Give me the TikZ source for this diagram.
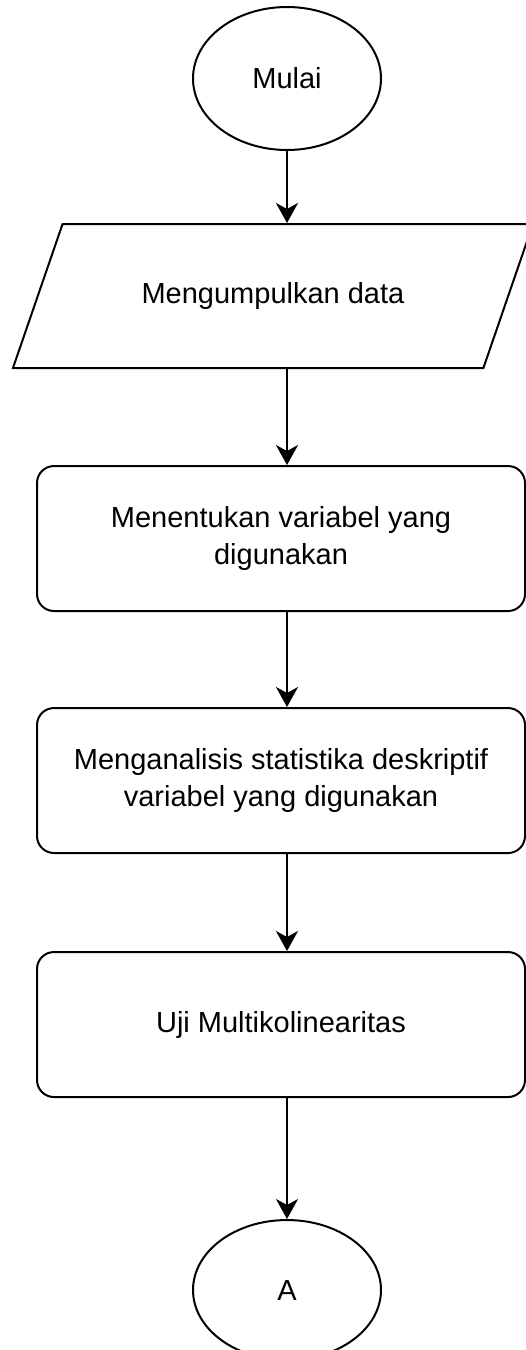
\documentclass[tikz,border=0pt]{standalone}
\usepackage{fontspec}
\setmainfont{Liberation Sans}
\usetikzlibrary{arrows.meta,positioning,shapes.geometric}

\begin{document}
\begin{tikzpicture}[x=1pt,y=-1pt,>={Stealth[length=20pt,width=22pt,inset=6pt]},
  every node/.style={font=\fontsize{29}{37}\selectfont},
  terminal/.style={ellipse,draw,line width=2pt,minimum width=188pt,inner sep=0pt},
  masukan/.style={trapezium,trapezium left angle=71,trapezium right angle=109,trapezium stretches body=true,draw,line width=2pt,minimum width=520pt,text height=21pt,text depth=6pt,inner ysep=58.5pt,inner xsep=0pt},
  proses/.style={rectangle,rounded corners=17pt,draw,line width=2pt,minimum width=488pt,minimum height=145pt,align=center,inner sep=0pt}]
\useasboundingbox (0,0) rectangle (526,1350);
\node[terminal,minimum height=143pt] (mulai) at (287,78.5) {Mulai};
\node[masukan,below=72pt of mulai,xshift=-14pt] (data) {Mengumpulkan data};
\node[proses,below=96pt of data,xshift=8pt] (variabel) {Menentukan variabel yang\\digunakan};
\node[proses,below=95pt of variabel] (analisis) {Menganalisis statistika deskriptif\\variabel yang digunakan};
\node[proses,below=97pt of analisis] (uji) {Uji Multikolinearitas};
\node[terminal,minimum height=140pt,below=121pt of uji,xshift=6pt] (akhir) {A};
\foreach \u/\v in {mulai/data,data/variabel,variabel/analisis,analisis/uji,uji/akhir}{\draw[->,line width=2pt] (\u.south -| mulai) -- (\v.north -| mulai);}
\end{tikzpicture}
\end{document}
